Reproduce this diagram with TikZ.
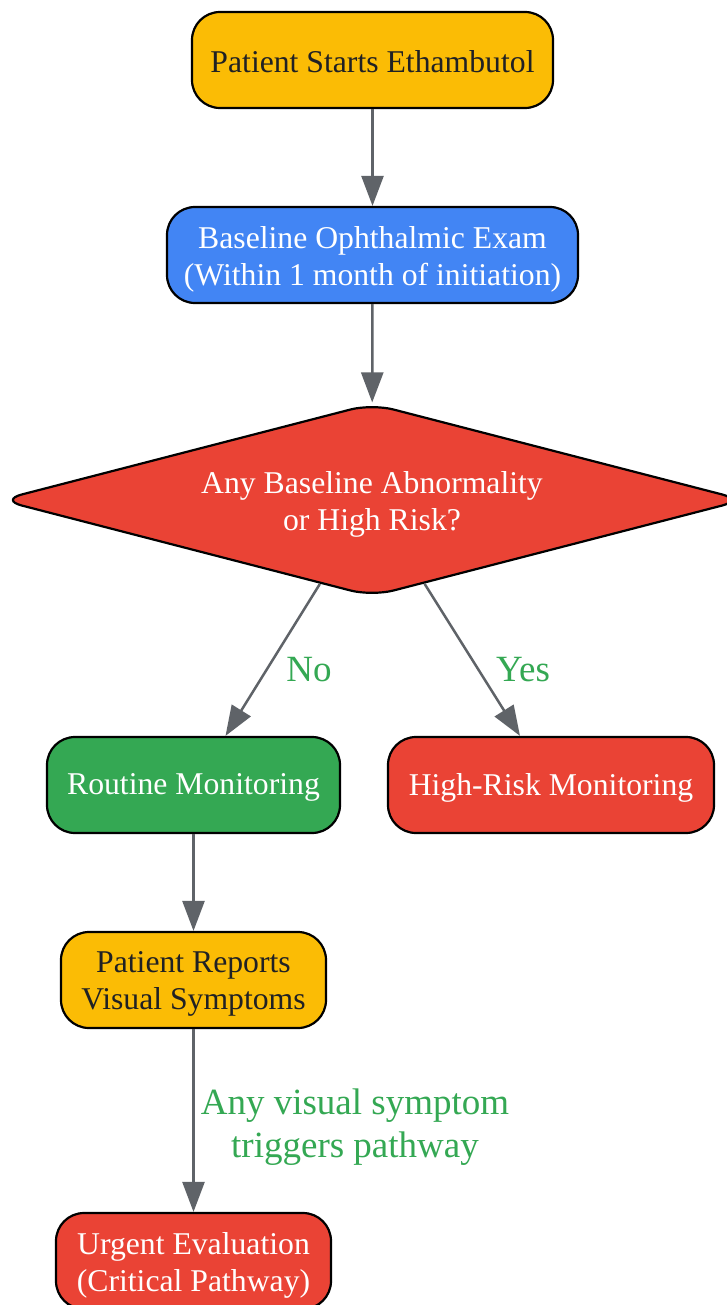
\documentclass[tikz,border=0pt]{standalone}
\usepackage{fontspec}
\setmainfont{Liberation Serif}
\usetikzlibrary{shapes.geometric,arrows.meta}
\definecolor{gyellow}{HTML}{FBBC05}
\definecolor{gblue}{HTML}{4285F4}
\definecolor{gred}{HTML}{EA4335}
\definecolor{ggreen}{HTML}{34A853}
\definecolor{ggray}{HTML}{5F6368}
\definecolor{gdark}{HTML}{202124}
\tikzset{
  lbl/.style={align=center, inner sep=0pt, font=\fontsize{31.7}{37}\selectfont, yshift=-4pt},
  box/.style={draw=black, line width=2.2pt, rounded corners=28pt, inner sep=0pt,
    minimum height=96pt},
  ybox/.style={box, fill=gyellow, label={[lbl, text=gdark]center:{#1}}},
  bbox/.style={box, fill=gblue, label={[lbl, text=white]center:{#1}}},
  rbox/.style={box, fill=gred, label={[lbl, text=white]center:{#1}}},
  gbox/.style={box, fill=ggreen, label={[lbl, text=white]center:{#1}}},
  dia/.style={diamond, draw=black, line width=2.2pt, rounded corners=22pt, fill=gred,
    minimum width=744pt, minimum height=193pt, inner sep=0pt, label={[lbl, text=white]center:{#1}}},
  arr/.style={draw=ggray, line width=2.5pt, -{Triangle[length=30pt,width=22pt]}},
  elab/.style={text=ggreen, align=center, font=\fontsize{37}{43}\selectfont},
}
\begin{document}
\begin{tikzpicture}[x=1pt,y=-1pt]
\useasboundingbox[fill=white] (0,0) rectangle (727,1305);
\node[box, fill=gyellow, label={[lbl, text=gdark, yshift=2.5pt]center:{Patient Starts Ethambutol}}, minimum width=361pt] (start) at (372.5,60) {};
\node[bbox={Baseline Ophthalmic Exam\\(Within 1 month of initiation)}, minimum width=411pt] (base) at (372.5,255) {};
\node[dia={Any Baseline Abnormality\\or High Risk?}] (q) at (372,500) {};
\node[box, fill=ggreen, label={[lbl, text=white, yshift=1.5pt]center:{Routine Monitoring}}, minimum width=293pt] (rout) at (193.5,785) {};
\node[box, fill=gred, label={[lbl, text=white, yshift=1.5pt]center:{High-Risk Monitoring}}, minimum width=326pt] (hr) at (551,785) {};
\node[ybox={Patient Reports\\Visual Symptoms}, minimum width=265pt] (rep) at (193.5,980) {};
\node[rbox={Urgent Evaluation\\(Critical Pathway)}, minimum width=275pt] (urg) at (193.5,1261) {};
\draw[arr] (start) -- (base);
\draw[arr] (base) -- (q);
\draw[arr] (q) -- ([xshift=32pt]rout.north);
\draw[arr] (q) -- ([xshift=-31pt]hr.north);
\draw[arr] (rout) -- (rep);
\draw[arr] (rep) -- (urg);
\node[elab] (lno) at (309,670) {No};
\node[elab] (lyes) at (523,670) {Yes};
\node[elab] (lany) at (355,1127) {Any visual symptom\\triggers pathway};
\end{tikzpicture}
\end{document}
